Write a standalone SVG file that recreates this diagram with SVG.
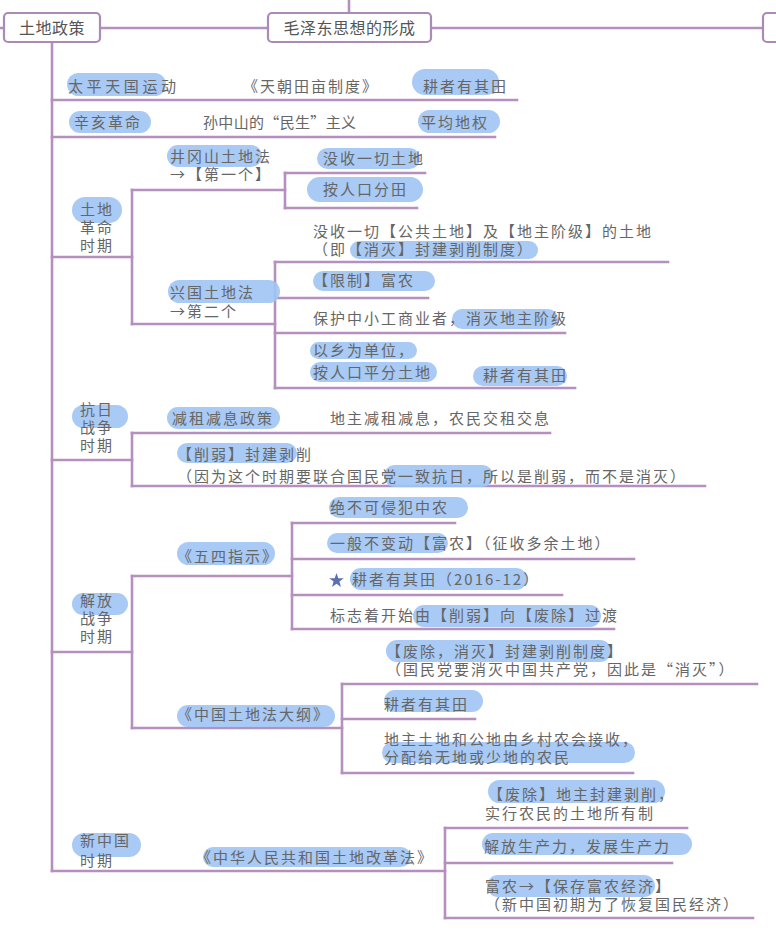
<svg xmlns="http://www.w3.org/2000/svg" width="776" height="931" viewBox="0 0 776 931">
<style>
text{font-family:"Noto Sans CJK SC","Noto Sans",sans-serif;font-size:15px;fill:#666;letter-spacing:2px}
.hd{fill:#555;font-size:16px;letter-spacing:0.5px}
.box{fill:#fff;stroke:#a98bb3;stroke-width:2.2}
.pill{fill:#9fc4f4;opacity:0.9}
#connectors line{stroke:#b590bf;stroke-width:2.6;stroke-linecap:square}
.star{fill:#5b70b0}
</style>
<rect width="776" height="931" fill="#fff"/>
<g id="connectors">
<line x1="0" y1="28" x2="4" y2="28"/>
<line x1="100" y1="28" x2="268" y2="28"/>
<line x1="431" y1="28" x2="763" y2="28"/>
<line x1="349" y1="0" x2="349" y2="13"/>
<line x1="52" y1="42" x2="52" y2="871"/>
<line x1="52" y1="100" x2="517" y2="100"/>
<line x1="52" y1="137" x2="495" y2="137"/>
<line x1="52" y1="257" x2="132" y2="257"/>
<line x1="132" y1="190" x2="132" y2="324"/>
<line x1="132" y1="190" x2="285" y2="190"/>
<line x1="132" y1="324" x2="275" y2="324"/>
<line x1="285" y1="173" x2="285" y2="208"/>
<line x1="285" y1="173" x2="425" y2="173"/>
<line x1="285" y1="208" x2="417" y2="208"/>
<line x1="275" y1="262" x2="275" y2="388"/>
<line x1="275" y1="262" x2="668" y2="262"/>
<line x1="275" y1="298" x2="428" y2="298"/>
<line x1="275" y1="333" x2="565" y2="333"/>
<line x1="275" y1="388" x2="575" y2="388"/>
<line x1="52" y1="460" x2="132" y2="460"/>
<line x1="132" y1="433" x2="132" y2="486"/>
<line x1="132" y1="433" x2="550" y2="433"/>
<line x1="132" y1="486" x2="705" y2="486"/>
<line x1="52" y1="652" x2="132" y2="652"/>
<line x1="132" y1="576" x2="132" y2="728"/>
<line x1="132" y1="576" x2="292" y2="576"/>
<line x1="132" y1="728" x2="342" y2="728"/>
<line x1="292" y1="523" x2="292" y2="629"/>
<line x1="292" y1="523" x2="455" y2="523"/>
<line x1="292" y1="559" x2="634" y2="559"/>
<line x1="292" y1="595" x2="562" y2="595"/>
<line x1="292" y1="629" x2="614" y2="629"/>
<line x1="342" y1="684" x2="342" y2="773"/>
<line x1="342" y1="684" x2="757" y2="684"/>
<line x1="342" y1="719" x2="475" y2="719"/>
<line x1="342" y1="773" x2="633" y2="773"/>
<line x1="52" y1="871" x2="445" y2="871"/>
<line x1="445" y1="828" x2="445" y2="918"/>
<line x1="445" y1="828" x2="687" y2="828"/>
<line x1="445" y1="863" x2="672" y2="863"/>
<line x1="445" y1="918" x2="753" y2="918"/>
</g>
<g id="n-tudizhengce"><rect class="box" x="4" y="13" width="96" height="29" rx="4"/><text class="hd" x="52" y="34" text-anchor="middle">土地政策</text></g>
<g id="n-maozedong"><rect class="box" x="268" y="13" width="163" height="29" rx="4"/><text class="hd" x="349.5" y="34" text-anchor="middle">毛泽东思想的形成</text></g>
<g id="n-right"><rect class="box" x="763" y="13" width="24" height="29" rx="4"/></g>

<g id="n-taiping"><rect class="pill" x="67" y="73" width="99" height="23" rx="11.5"/><text x="68" y="92" textLength="110">太平天国运动</text><text x="243" y="92">《天朝田亩制度》</text><rect class="pill" x="412" y="69" width="87" height="26" rx="13"/><text x="423" y="92">耕者有其田</text></g>
<g id="n-xinhai"><rect class="pill" x="69" y="111" width="82" height="22" rx="11"/><text x="74" y="128">辛亥革命</text><text x="203" y="128" textLength="155">孙中山的“民生”主义</text><rect class="pill" x="418" y="110" width="82" height="23" rx="11.5"/><text x="421" y="128">平均地权</text></g>

<g id="n-tudigeming"><rect class="pill" x="72" y="197" width="50" height="26" rx="13"/><text x="80" y="215">土地<tspan x="80" dy="18">革命</tspan><tspan x="80" dy="18">时期</tspan></text></g>
<g id="n-jinggangshan"><rect class="pill" x="167" y="145" width="95" height="22" rx="11"/><text x="170" y="162">井冈山土地法<tspan x="170" dy="18">→【第一个】</tspan></text></g>
<g id="n-moshou1"><rect class="pill" x="317" y="148" width="103" height="21" rx="10.5"/><text x="323" y="164">没收一切土地</text></g>
<g id="n-anrenkou"><rect class="pill" x="307" y="177" width="116" height="25" rx="12.5"/><text x="323" y="195">按人口分田</text></g>
<g id="n-xingguo"><rect class="pill" x="168" y="280" width="112" height="23" rx="11.5"/><text x="170" y="298">兴国土地法<tspan x="170" dy="19">→第二个</tspan></text></g>
<g id="n-moshou2"><rect class="pill" x="350" y="241" width="188" height="18" rx="9"/><text x="313" y="237">没收一切【公共土地】及【地主阶级】的土地<tspan x="313" dy="18">（即【消灭】封建剥削制度）</tspan></text></g>
<g id="n-xianzhi"><rect class="pill" x="313" y="271" width="122" height="20" rx="10"/><text x="313" y="286">【限制】富农</text></g>
<g id="n-baohu"><rect class="pill" x="452" y="309" width="106" height="20" rx="10"/><text x="313" y="324">保护中小工商业者，消灭地主阶级</text></g>
<g id="n-yixiang"><rect class="pill" x="310" y="342" width="107" height="17" rx="8.5"/><rect class="pill" x="310" y="362" width="127" height="20" rx="10"/><text x="313" y="356">以乡为单位，<tspan x="313" dy="22">按人口平分土地</tspan></text><rect class="pill" x="473" y="366" width="94" height="20" rx="10"/><text x="483" y="381">耕者有其田</text></g>

<g id="n-kangri"><rect class="pill" x="72" y="405" width="56" height="23" rx="11.5"/><text x="80" y="415">抗日<tspan x="80" dy="18">战争</tspan><tspan x="80" dy="18">时期</tspan></text></g>
<g id="n-jianzu"><rect class="pill" x="167" y="407" width="113" height="22" rx="11"/><text x="172" y="424">减租减息政策</text><text x="330" y="424">地主减租减息，农民交租交息</text></g>
<g id="n-xueruo"><rect class="pill" x="177" y="443" width="120" height="20" rx="10"/><rect class="pill" x="384" y="465" width="109" height="22" rx="11"/><text x="177" y="460">【削弱】封建剥削<tspan x="177" dy="22">（因为这个时期要联合国民党一致抗日，所以是削弱，而不是消灭）</tspan></text></g>

<g id="n-jiefang"><rect class="pill" x="72" y="593" width="56" height="22" rx="11"/><text x="80" y="606">解放<tspan x="80" dy="18">战争</tspan><tspan x="80" dy="18">时期</tspan></text></g>
<g id="n-wusi"><rect class="pill" x="177" y="542" width="98" height="23" rx="11.5"/><text x="177" y="562">《五四指示》</text></g>
<g id="n-jue"><rect class="pill" x="329" y="497" width="139" height="21" rx="10.5"/><text x="330" y="513">绝不可侵犯中农</text></g>
<g id="n-yiban"><rect class="pill" x="327" y="533" width="121" height="20" rx="10"/><text x="330" y="549">一般不变动【富农】（征收多余土地）</text></g>
<g id="n-gengzhe2016"><rect class="pill" x="350" y="568" width="177" height="22" rx="11"/><polygon class="star" points="336.5,573 338.3,578.2 343.8,578.3 339.4,581.6 341,586.9 336.5,583.7 332,586.9 333.6,581.6 329.2,578.3 334.7,578.2"/><text x="352" y="585">耕者有其田（2016-12）</text></g>
<g id="n-biaozhi"><rect class="pill" x="413" y="605" width="188" height="22" rx="11"/><text x="330" y="621">标志着开始由【削弱】向【废除】过渡</text></g>
<g id="n-dagang"><rect class="pill" x="177" y="705" width="158" height="22" rx="11"/><text x="177" y="720">《中国土地法大纲》</text></g>
<g id="n-feichu1"><rect class="pill" x="386" y="640" width="225" height="22" rx="11"/><text x="386" y="657">【废除，消灭】封建剥削制度】<tspan x="386" dy="18">（国民党要消灭中国共产党，因此是“消灭”）</tspan></text></g>
<g id="n-gengzhe3"><rect class="pill" x="384" y="690" width="99" height="22" rx="11"/><text x="384" y="710">耕者有其田</text></g>
<g id="n-dizhu"><rect class="pill" x="382" y="742" width="253" height="21" rx="10.5"/><text x="384" y="745">地主土地和公地由乡村农会接收，<tspan x="384" dy="18">分配给无地或少地的农民</tspan></text></g>

<g id="n-xinzhongguo"><rect class="pill" x="72" y="833" width="69" height="24" rx="12"/><text x="80" y="846">新中国<tspan x="80" dy="20">时期</tspan></text></g>
<g id="n-gaigefa"><rect class="pill" x="203" y="847" width="208" height="20" rx="10"/><text x="196" y="863">《中华人民共和国土地改革法》</text></g>
<g id="n-feichu2"><rect class="pill" x="488" y="780" width="177" height="23" rx="11.5"/><text x="488" y="800">【废除】地主封建剥削，<tspan x="485" dy="19">实行农民的土地所有制</tspan></text></g>
<g id="n-jiefangshengchan"><rect class="pill" x="482" y="833" width="210" height="22" rx="11"/><text x="484" y="852">解放生产力，发展生产力</text></g>
<g id="n-funong"><rect class="pill" x="487" y="875" width="168" height="22" rx="11"/><text x="485" y="892">富农→【保存富农经济】<tspan x="485" dy="18">（新中国初期为了恢复国民经济）</tspan></text></g>
</svg>
